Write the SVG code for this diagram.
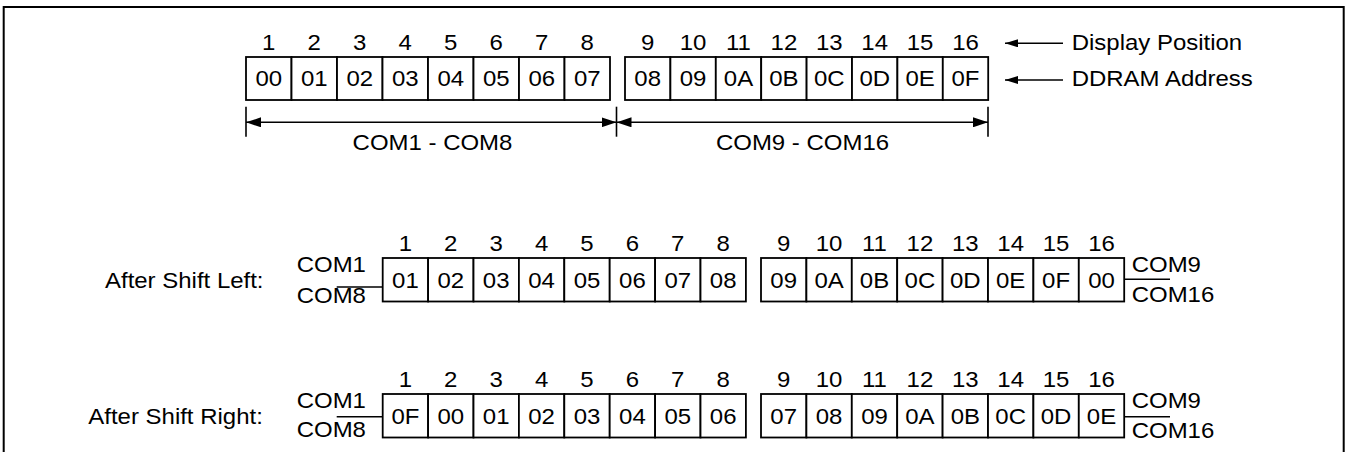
<svg xmlns="http://www.w3.org/2000/svg" width="1351" height="452" viewBox="0 0 1351 452">
<style>
text{font-family:"Liberation Sans",Arial,Helvetica,sans-serif;font-size:22px;fill:#000;transform-box:fill-box;transform:scaleX(1.09)}
.m{text-anchor:middle;transform-origin:center}
.s{transform-origin:left center}
.c{fill:#fff;stroke:#000;stroke-width:1.8}
.ln{stroke:#000;stroke-width:1.6;fill:none}
.frame{fill:none;stroke:#000;stroke-width:2}
</style>
<defs>
<marker id="ah" viewBox="0 0 15 10" refX="15" refY="5" markerWidth="15" markerHeight="10" markerUnits="userSpaceOnUse" orient="auto-start-reverse"><path d="M0,0 L15,5 L0,10 z" fill="#000"/></marker>
<marker id="as" viewBox="0 0 13 8" refX="13" refY="4" markerWidth="13" markerHeight="8" markerUnits="userSpaceOnUse" orient="auto-start-reverse"><path d="M0,0 L13,4 L0,8 z" fill="#000"/></marker>
</defs>
<rect class="frame" x="3.7" y="7" width="1340" height="460"/>

<g id="top-left">
<rect class="c" x="246" y="57" width="45.5" height="43"/><rect class="c" x="291.5" y="57" width="45.5" height="43"/><rect class="c" x="337" y="57" width="45.5" height="43"/><rect class="c" x="382.5" y="57" width="45.5" height="43"/><rect class="c" x="428" y="57" width="45.5" height="43"/><rect class="c" x="473.5" y="57" width="45.5" height="43"/><rect class="c" x="519" y="57" width="45.5" height="43"/><rect class="c" x="564.5" y="57" width="45.5" height="43"/>
<text class="m" x="268.75" y="50">1</text><text class="m" x="314.25" y="50">2</text><text class="m" x="359.75" y="50">3</text><text class="m" x="405.25" y="50">4</text><text class="m" x="450.75" y="50">5</text><text class="m" x="496.25" y="50">6</text><text class="m" x="541.75" y="50">7</text><text class="m" x="587.25" y="50">8</text>
<text class="m" x="268.75" y="86">00</text><text class="m" x="314.25" y="86">01</text><text class="m" x="359.75" y="86">02</text><text class="m" x="405.25" y="86">03</text><text class="m" x="450.75" y="86">04</text><text class="m" x="496.25" y="86">05</text><text class="m" x="541.75" y="86">06</text><text class="m" x="587.25" y="86">07</text>
</g>
<g id="top-right">
<rect class="c" x="625" y="57" width="45.4" height="43"/><rect class="c" x="670.4" y="57" width="45.4" height="43"/><rect class="c" x="715.8" y="57" width="45.4" height="43"/><rect class="c" x="761.2" y="57" width="45.4" height="43"/><rect class="c" x="806.6" y="57" width="45.4" height="43"/><rect class="c" x="852" y="57" width="45.4" height="43"/><rect class="c" x="897.4" y="57" width="45.4" height="43"/><rect class="c" x="942.8" y="57" width="45.4" height="43"/>
<text class="m" x="647.7" y="50">9</text><text class="m" x="693.1" y="50">10</text><text class="m" x="738.5" y="50">11</text><text class="m" x="783.9" y="50">12</text><text class="m" x="829.3" y="50">13</text><text class="m" x="874.7" y="50">14</text><text class="m" x="920.1" y="50">15</text><text class="m" x="965.5" y="50">16</text>
<text class="m" x="647.7" y="86">08</text><text class="m" x="693.1" y="86">09</text><text class="m" x="738.5" y="86">0A</text><text class="m" x="783.9" y="86">0B</text><text class="m" x="829.3" y="86">0C</text><text class="m" x="874.7" y="86">0D</text><text class="m" x="920.1" y="86">0E</text><text class="m" x="965.5" y="86">0F</text>
</g>
<g id="legend">
<text class="s" x="1071.7" y="50">Display Position</text>
<text class="s" x="1071.7" y="86">DDRAM Address</text>
</g>
<g id="span-labels">
<text class="m" x="432.5" y="150">COM1 - COM8</text>
<text class="m" x="802.5" y="150">COM9 - COM16</text>
</g>

<g id="row-left-labels">
<text class="s" x="105" y="288">After Shift Left:</text>
<text class="s" x="296.7" y="272">COM1</text>
<text class="s" x="296.7" y="303">COM8</text>
<text class="s" x="1131.7" y="272">COM9</text>
<text class="s" x="1131.7" y="302">COM16</text>
</g>
<g id="left-shift-a">
<rect class="c" x="382.7" y="258" width="45.4" height="43.5"/><rect class="c" x="428.1" y="258" width="45.4" height="43.5"/><rect class="c" x="473.5" y="258" width="45.4" height="43.5"/><rect class="c" x="518.9" y="258" width="45.4" height="43.5"/><rect class="c" x="564.3" y="258" width="45.4" height="43.5"/><rect class="c" x="609.7" y="258" width="45.4" height="43.5"/><rect class="c" x="655.1" y="258" width="45.4" height="43.5"/><rect class="c" x="700.5" y="258" width="45.4" height="43.5"/>
<text class="m" x="405.4" y="251">1</text><text class="m" x="450.8" y="251">2</text><text class="m" x="496.2" y="251">3</text><text class="m" x="541.6" y="251">4</text><text class="m" x="587" y="251">5</text><text class="m" x="632.4" y="251">6</text><text class="m" x="677.8" y="251">7</text><text class="m" x="723.2" y="251">8</text>
<text class="m" x="405.4" y="288.5">01</text><text class="m" x="450.8" y="288.5">02</text><text class="m" x="496.2" y="288.5">03</text><text class="m" x="541.6" y="288.5">04</text><text class="m" x="587" y="288.5">05</text><text class="m" x="632.4" y="288.5">06</text><text class="m" x="677.8" y="288.5">07</text><text class="m" x="723.2" y="288.5">08</text>
</g>
<g id="left-shift-b">
<rect class="c" x="761" y="258" width="45.4" height="43.5"/><rect class="c" x="806.4" y="258" width="45.4" height="43.5"/><rect class="c" x="851.8" y="258" width="45.4" height="43.5"/><rect class="c" x="897.2" y="258" width="45.4" height="43.5"/><rect class="c" x="942.6" y="258" width="45.4" height="43.5"/><rect class="c" x="988" y="258" width="45.4" height="43.5"/><rect class="c" x="1033.4" y="258" width="45.4" height="43.5"/><rect class="c" x="1078.8" y="258" width="45.4" height="43.5"/>
<text class="m" x="783.7" y="251">9</text><text class="m" x="829.1" y="251">10</text><text class="m" x="874.5" y="251">11</text><text class="m" x="919.9" y="251">12</text><text class="m" x="965.3" y="251">13</text><text class="m" x="1010.7" y="251">14</text><text class="m" x="1056.1" y="251">15</text><text class="m" x="1101.5" y="251">16</text>
<text class="m" x="783.7" y="288.5">09</text><text class="m" x="829.1" y="288.5">0A</text><text class="m" x="874.5" y="288.5">0B</text><text class="m" x="919.9" y="288.5">0C</text><text class="m" x="965.3" y="288.5">0D</text><text class="m" x="1010.7" y="288.5">0E</text><text class="m" x="1056.1" y="288.5">0F</text><text class="m" x="1101.5" y="288.5">00</text>
</g>

<g id="row-right-labels">
<text class="s" x="88.3" y="424">After Shift Right:</text>
<text class="s" x="296.7" y="408.5">COM1</text>
<text class="s" x="296.7" y="437.5">COM8</text>
<text class="s" x="1131.7" y="408.5">COM9</text>
<text class="s" x="1131.7" y="438.5">COM16</text>
</g>
<g id="right-shift-a">
<rect class="c" x="382.7" y="394" width="45.4" height="43.5"/><rect class="c" x="428.1" y="394" width="45.4" height="43.5"/><rect class="c" x="473.5" y="394" width="45.4" height="43.5"/><rect class="c" x="518.9" y="394" width="45.4" height="43.5"/><rect class="c" x="564.3" y="394" width="45.4" height="43.5"/><rect class="c" x="609.7" y="394" width="45.4" height="43.5"/><rect class="c" x="655.1" y="394" width="45.4" height="43.5"/><rect class="c" x="700.5" y="394" width="45.4" height="43.5"/>
<text class="m" x="405.4" y="387.5">1</text><text class="m" x="450.8" y="387.5">2</text><text class="m" x="496.2" y="387.5">3</text><text class="m" x="541.6" y="387.5">4</text><text class="m" x="587" y="387.5">5</text><text class="m" x="632.4" y="387.5">6</text><text class="m" x="677.8" y="387.5">7</text><text class="m" x="723.2" y="387.5">8</text>
<text class="m" x="405.4" y="424">0F</text><text class="m" x="450.8" y="424">00</text><text class="m" x="496.2" y="424">01</text><text class="m" x="541.6" y="424">02</text><text class="m" x="587" y="424">03</text><text class="m" x="632.4" y="424">04</text><text class="m" x="677.8" y="424">05</text><text class="m" x="723.2" y="424">06</text>
</g>
<g id="right-shift-b">
<rect class="c" x="761" y="394" width="45.4" height="43.5"/><rect class="c" x="806.4" y="394" width="45.4" height="43.5"/><rect class="c" x="851.8" y="394" width="45.4" height="43.5"/><rect class="c" x="897.2" y="394" width="45.4" height="43.5"/><rect class="c" x="942.6" y="394" width="45.4" height="43.5"/><rect class="c" x="988" y="394" width="45.4" height="43.5"/><rect class="c" x="1033.4" y="394" width="45.4" height="43.5"/><rect class="c" x="1078.8" y="394" width="45.4" height="43.5"/>
<text class="m" x="783.7" y="387.5">9</text><text class="m" x="829.1" y="387.5">10</text><text class="m" x="874.5" y="387.5">11</text><text class="m" x="919.9" y="387.5">12</text><text class="m" x="965.3" y="387.5">13</text><text class="m" x="1010.7" y="387.5">14</text><text class="m" x="1056.1" y="387.5">15</text><text class="m" x="1101.5" y="387.5">16</text>
<text class="m" x="783.7" y="424">07</text><text class="m" x="829.1" y="424">08</text><text class="m" x="874.5" y="424">09</text><text class="m" x="919.9" y="424">0A</text><text class="m" x="965.3" y="424">0B</text><text class="m" x="1010.7" y="424">0C</text><text class="m" x="1056.1" y="424">0D</text><text class="m" x="1101.5" y="424">0E</text>
</g>

<g id="connectors">
<line class="ln" x1="246" y1="106.7" x2="246" y2="136.7"/>
<line class="ln" x1="616.5" y1="106.7" x2="616.5" y2="136.7"/>
<line class="ln" x1="988" y1="106.7" x2="988" y2="136.7"/>
<line class="ln" x1="246" y1="122.3" x2="616.5" y2="122.3" marker-start="url(#ah)" marker-end="url(#ah)"/>
<line class="ln" x1="616.5" y1="122.3" x2="988" y2="122.3" marker-start="url(#ah)" marker-end="url(#ah)"/>
<line class="ln" x1="1063" y1="43.3" x2="1005" y2="43.3" marker-end="url(#as)"/>
<line class="ln" x1="1063" y1="80" x2="1005" y2="80" marker-end="url(#as)"/>
<line class="ln" x1="336.7" y1="287" x2="382.7" y2="287"/>
<line class="ln" x1="1124.2" y1="279.3" x2="1170" y2="279.3"/>
<line class="ln" x1="336.7" y1="416.7" x2="382.7" y2="416.7"/>
<line class="ln" x1="1124.2" y1="416.7" x2="1170" y2="416.7"/>
</g>
</svg>
